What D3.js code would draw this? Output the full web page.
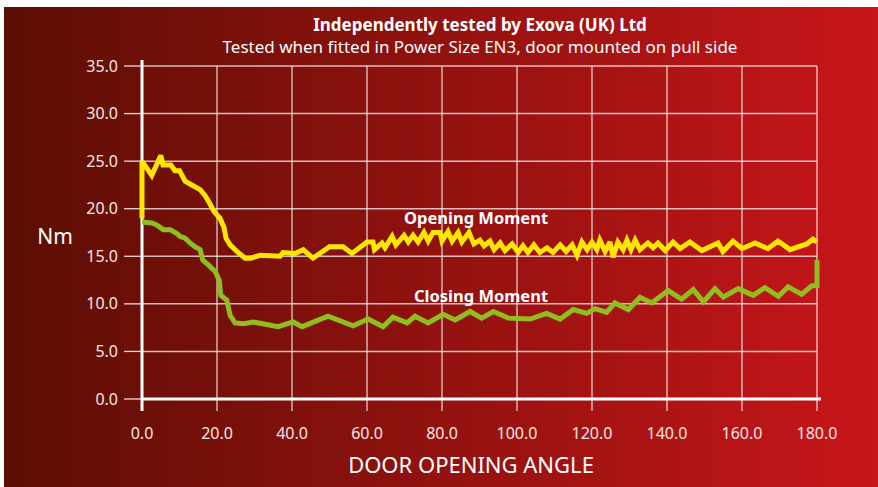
<!DOCTYPE html>
<html>
<head>
<meta charset="utf-8">
<script src="https://cdn.jsdelivr.net/npm/d3@7"></script>
<style>
  body { margin: 0; background: #fff; }
  svg { display: block; font-family: "Noto Sans", sans-serif; }
</style>
</head>
<body>
<div id="chart"></div>
<script>
// opening moment (yellow)
var openAngle = [0, 0, 2.6, 5, 5.6, 7.7, 8.8, 10, 11.5, 12.8, 15.5, 16.8, 18, 19.2, 20.8, 21.9, 22.4, 23.5, 25.6, 27.5, 29, 31.5, 36.8, 37.6, 40.8, 43, 45.6, 50, 53.6, 56, 60, 61.6, 62, 64, 64.8, 66.7, 67.7, 69.9, 71, 72.3, 73.6, 75.2, 76.3, 77.6, 79.5, 80, 81.6, 82.7, 84.3, 85.3, 87.2, 88.5, 90.1, 91.2, 92.8, 93.9, 95.5, 96.8, 98.7, 100.3, 101.6, 102.9, 104.5, 106.1, 108, 109.6, 111.5, 113.1, 114.7, 116, 117.3, 118.7, 120, 121.3, 122.1, 123.5, 124.8, 125.6, 126.9, 128.3, 129.3, 130.4, 131.5, 132.8, 134.9, 136.3, 137.6, 139.5, 141.6, 143.5, 146.1, 149.3, 153.6, 154.9, 157.6, 160, 163.5, 166.9, 169.6, 172.8, 177.3, 178.9, 180]
var openNm = [19.0, 25.0, 23.5, 25.6, 24.6, 24.6, 24.0, 24.0, 22.9, 22.6, 22.0, 21.4, 20.6, 19.7, 19.0, 18.0, 16.9, 16.2, 15.4, 14.8, 14.8, 15.1, 15.0, 15.4, 15.3, 15.7, 14.8, 16.0, 16.0, 15.3, 16.5, 16.5, 15.7, 16.4, 15.9, 17.1, 16.2, 17.2, 16.5, 17.2, 16.5, 17.5, 16.6, 17.5, 17.5, 16.6, 17.6, 16.6, 17.5, 16.5, 17.5, 16.3, 16.7, 16.1, 16.6, 15.7, 16.4, 15.6, 16.3, 15.4, 16.1, 15.4, 16.2, 15.4, 15.9, 15.4, 16.2, 15.5, 16.2, 15.1, 16.5, 15.7, 16.5, 15.7, 16.7, 15.5, 16.5, 14.9, 16.5, 15.7, 16.7, 15.7, 16.7, 15.7, 16.4, 15.9, 16.4, 15.6, 16.5, 15.8, 16.5, 15.6, 16.4, 15.5, 16.6, 15.8, 16.4, 15.8, 16.6, 15.7, 16.3, 16.8, 16.5]

// closing moment (green)
var closeAngle = [0, 2.6, 3.9, 5.7, 7.5, 9.3, 10.1, 11.5, 12.8, 14.1, 15.5, 16.2, 17.7, 19.5, 20.6, 21, 22.6, 23.5, 24.8, 27, 29.6, 36.3, 40.3, 42.7, 49.6, 56.3, 60.3, 64.3, 66.9, 70.7, 72.8, 76.3, 80.3, 83.5, 87.5, 90.6, 93.7, 97.7, 103.5, 107.9, 111.5, 115, 118.6, 120.8, 123.9, 126.1, 129.7, 132.8, 135.9, 140.3, 143.9, 147, 149.7, 152.8, 155, 159, 163, 166.1, 169.7, 172.3, 175.9, 178.6, 180, 180]
var closeNm = [18.6, 18.5, 18.3, 17.8, 17.8, 17.4, 17.1, 16.9, 16.4, 16.0, 15.7, 14.6, 14.1, 13.4, 12.5, 10.9, 10.4, 8.8, 8.0, 7.9, 8.1, 7.6, 8.1, 7.6, 8.7, 7.7, 8.4, 7.6, 8.6, 8.0, 8.7, 8.0, 8.9, 8.3, 9.2, 8.5, 9.2, 8.5, 8.4, 9.0, 8.4, 9.4, 9.0, 9.5, 9.1, 10.1, 9.4, 10.7, 10.1, 11.4, 10.5, 11.5, 10.2, 11.6, 10.7, 11.6, 10.9, 11.7, 10.8, 11.8, 11.0, 11.9, 11.9, 14.6]

var xTicks = [0, 20, 40, 60, 80, 100, 120, 140, 160, 180]
var yTicks = [0, 5, 10, 15, 20, 25, 30, 35]

var W = 878, H = 487
var svg = d3.select("#chart").append("svg")
            .attr("width", W).attr("height", H)

// background gradient
var grad = svg.append("defs").append("linearGradient")
              .attr("id", "bg").attr("x1", "0%").attr("x2", "100%")
grad.append("stop").attr("offset", "0%").attr("stop-color", "#5c0e04")
grad.append("stop").attr("offset", "100%").attr("stop-color", "#c8161a")
svg.append("rect").attr("x", 4).attr("y", 7).attr("width", W - 4).attr("height", H - 7)
   .attr("fill", "url(#bg)")

var x = d3.scaleLinear().domain([0, 180]).range([142, 817])
var y = d3.scaleLinear().domain([0, 35]).range([399, 66])

//gridlines
svg.append("g").selectAll("line").data(yTicks.slice(1)).enter().append("line")
   .attr("x1", x(0)).attr("x2", x(180))
   .attr("y1", d => y(d)).attr("y2", d => y(d))
   .attr("stroke", "rgba(255,255,255,0.72)").attr("stroke-width", 1.5)
svg.append("g").selectAll("line").data(xTicks).enter().append("line")
   .attr("x1", d => x(d)).attr("x2", d => x(d))
   .attr("y1", y(35)).attr("y2", y(0) + 12)
   .attr("stroke", "#fff").attr("stroke-width", 1)

// y ticks + labels
var yAxis = svg.append("g")
yAxis.selectAll("line").data(yTicks).enter().append("line")
     .attr("x1", 124).attr("x2", x(0))
     .attr("y1", d => y(d)).attr("y2", d => y(d))
     .attr("stroke", "rgba(255,255,255,0.85)").attr("stroke-width", 1.3)
yAxis.selectAll("text").data(yTicks).enter().append("text")
     .attr("x", 118).attr("y", d => y(d)).attr("dy", "0.35em")
     .attr("text-anchor", "end").attr("fill", "#f6e6e4").attr("font-size", 16)
     .text(d => d3.format(".1f")(d))

svg.append("g").selectAll("text").data(xTicks).enter().append("text")
   .attr("x", d => x(d)).attr("y", 439)
   .attr("text-anchor", "middle").attr("fill", "#f6e6e4").attr("font-size", 16)
   .text(d => d3.format(".1f")(d))

// axis lines
svg.append("line").attr("x1", x(0)).attr("x2", x(0)).attr("y1", 60).attr("y2", y(0) + 12)
   .attr("stroke", "#fff").attr("stroke-width", 3)
svg.append("line").attr("x1", x(0)).attr("x2", x(180) + 4).attr("y1", y(0)).attr("y2", y(0))
   .attr("stroke", "#fff").attr("stroke-width", 3)

// series
var line = d3.line().x(d => x(d[0])).y(d => y(d[1]))
svg.append("path").datum(d3.zip(closeAngle, closeNm))
   .attr("d", line).attr("fill", "none").attr("stroke", "#8fbf1f")
   .attr("stroke-width", 5).attr("stroke-linejoin", "miter").attr("stroke-miterlimit", 3)
svg.append("path").datum(d3.zip(openAngle, openNm))
   .attr("d", line).attr("fill", "none").attr("stroke", "#ffe600")
   .attr("stroke-width", 5).attr("stroke-linejoin", "miter").attr("stroke-miterlimit", 3)

// labels
svg.append("text").attr("x", 476).attr("y", 224).attr("text-anchor", "middle")
   .attr("fill", "#fff").attr("font-size", 16.5).attr("font-weight", "bold").text("Opening Moment")
svg.append("text").attr("x", 481).attr("y", 302).attr("text-anchor", "middle")
   .attr("fill", "#fff").attr("font-size", 16.5).attr("font-weight", "bold").text("Closing Moment")

svg.append("text").attr("x", 480).attr("y", 31).attr("text-anchor", "middle")
   .attr("fill", "#fff").attr("font-size", 17).attr("font-weight", "bold")
   .text("Independently tested by Exova (UK) Ltd")
svg.append("text").attr("x", 480).attr("y", 53).attr("text-anchor", "middle")
   .attr("fill", "#fff").attr("font-size", 17)
   .text("Tested when fitted in Power Size EN3, door mounted on pull side")

svg.append("text").attr("x", 55).attr("y", 244).attr("text-anchor", "middle")
   .attr("fill", "#fff").attr("font-size", 21).text("Nm")
svg.append("text").attr("x", 471).attr("y", 473).attr("text-anchor", "middle")
   .attr("fill", "#fff").attr("font-size", 22).text("DOOR OPENING ANGLE")
</script>
</body>
</html>
